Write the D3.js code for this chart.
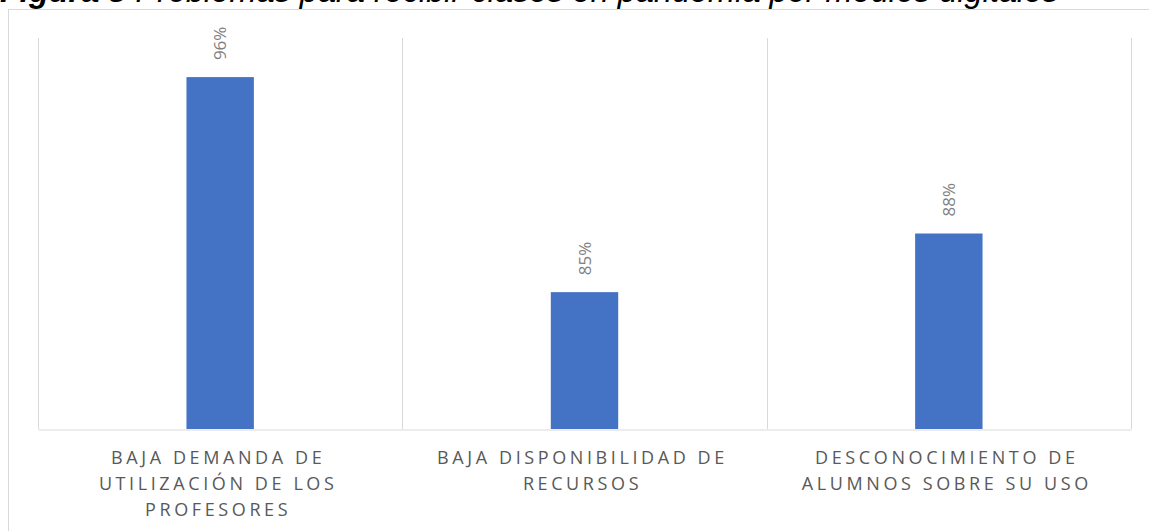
<!DOCTYPE html>
<html>
<head>
<meta charset="utf-8">
<script src="https://cdn.jsdelivr.net/npm/d3@7"></script>
<style>
  body { margin: 0; background: #fff; overflow: hidden; }
  svg { display: block; }
</style>
</head>
<body>
<div id="chart"></div>
<script>

// chart data
var categories = ['c1', 'c2', 'c3'];
var labelLines = [
	['BAJA DEMANDA DE', 'UTILIZACIÓN DE LOS', 'PROFESORES'],
	['BAJA DISPONIBILIDAD DE', 'RECURSOS'],
	['DESCONOCIMIENTO DE', 'ALUMNOS SOBRE SU USO']
];
var values = [0.96, 0.85, 0.88];
var yDomain = [0.78, 0.98];

var width = 1149,
	height = 531,
	margin = { top: 38, right: 18, bottom: 102, left: 38 };

var svg = d3.select('#chart')
	.append('svg')
	.attr('width', width)
	.attr('height', height);

// title, cut off at the top like the source
var title = svg.append('text')
	.attr('x', 0)
	.attr('y', 2)
	.style('font-family', '"Liberation Sans", Arial, sans-serif')
	.style('font-size', '32.5px')
	.style('font-style', 'italic')
	.attr('fill', '#000');
title.append('tspan').style('font-weight', 'bold').text('Figura 8 ');
title.append('tspan').text('Problemas para recibir clases en pandemia por medios digitales');

// outer chart frame
svg.append('rect')
	.attr('x', 8.5)
	.attr('y', 9.5)
	.attr('width', width + 20)
	.attr('height', height + 20)
	.attr('fill', 'none')
	.attr('stroke', '#d9d9d9');

var x = d3.scaleBand()
	.domain(categories)
	.range([margin.left, width - margin.right])
	.padding(0);

var y = d3.scaleLinear()
	.domain(yDomain)
	.range([height - margin.bottom, margin.top]);

// vertical separators between categories
var bounds = categories.map(function(c){ return x(c); }).concat([x(categories[categories.length - 1]) + x.bandwidth()]);
svg.selectAll('line.sep')
	.data(bounds)
	.enter()
	.append('line')
	.attr('class', 'sep')
	.attr('x1', function(d){ return Math.round(d) + 0.5; })
	.attr('x2', function(d){ return Math.round(d) + 0.5; })
	.attr('y1', y(yDomain[1]))
	.attr('y2', y(yDomain[0]))
	.attr('stroke', '#d9d9d9');

// bars
var barW = x.bandwidth() * 0.185;
svg.selectAll('rect.bar')
	.data(values)
	.enter()
	.append('rect')
	.attr('class', 'bar')
	.attr('x', function(d, i){ return x(categories[i]) + x.bandwidth() / 2 - barW / 2; })
	.attr('y', function(d){ return y(d); })
	.attr('width', barW)
	.attr('height', function(d){ return y(yDomain[0]) - y(d); })
	.attr('fill', '#4472c4');

// x axis line
var xAxis = d3.axisBottom(x).tickSize(0).tickFormat('');
var gx = svg.append('g')
	.attr('transform', 'translate(0,' + (y(yDomain[0]) + 0.5) + ')')
	.call(xAxis);
gx.select('.domain').attr('stroke', '#d9d9d9');

// category labels
categories.forEach(function(c, i){
	var t = svg.append('text')
		.attr('text-anchor', 'middle')
		.style('font-family', '"Open Sans", sans-serif')
		.style('font-size', '18px')
		.style('letter-spacing', '3.6px')
		.attr('fill', '#595959');
	labelLines[i].forEach(function(line, j){
		t.append('tspan')
			.attr('x', x(c) + x.bandwidth() / 2 - 2)
			.attr('y', y(yDomain[0]) + 35 + j * 26)
			.text(line);
	});
});

// data labels, rotated
svg.selectAll('text.val')
	.data(values)
	.enter()
	.append('text')
	.attr('class', 'val')
	.attr('transform', function(d, i){
		var cx = x(categories[i]) + x.bandwidth() / 2 + 6;
		return 'translate(' + cx + ',' + (y(d) - 17) + ') rotate(-90)';
	})
	.style('font-family', '"Open Sans", sans-serif')
	.style('font-size', '17px')
	.attr('fill', '#7f7f7f')
	.text(function(d){ return d3.format('.0%')(d); });

</script>
</body>
</html>
